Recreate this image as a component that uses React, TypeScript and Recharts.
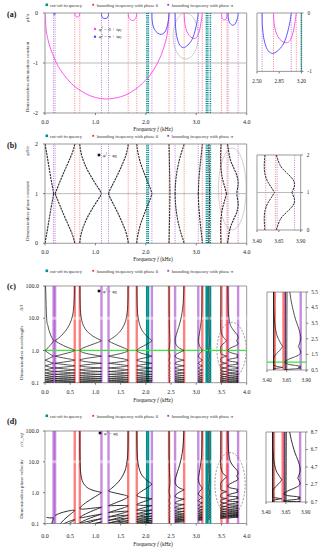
import React from 'react';
import { ComposedChart, Line, XAxis, YAxis, ReferenceLine, ReferenceArea } from 'recharts';

const SERIF = '"Liberation Serif", "DejaVu Serif", serif';

// ---------- tick values ----------
const freqTicksCoarse = [0, 1, 2, 3, 4];
const freqTicksFine = [0, 0.5, 1, 1.5, 2, 2.5, 3, 3.5, 4];
const insetATicksX = [2.5, 2.85, 3.2];
const insetTicksX = [3.4, 3.65, 3.9];
const attenTicks = [-2, -1, 0];
const insetAttenTicks = [-1, 0];
const phaseTicks = [0, 1, 2];
const logTicks = [0.1, 1, 10, 100];
const insetWaveTicks = [0.5, 1.5, 2.5, 3.5, 4.5, 5.5];
const insetVelTicks = [0.7, 2.7, 4.7, 6.7, 8.7];

// ---------- characteristic frequencies (kHz) ----------
const cutoffFreqs = [2.02, 2.05, 3.2, 3.23, 3.28];
const phase0Freqs = [0.59, 0.69, 1.65, 1.82, 2.46, 2.76, 3.12, 3.5, 3.61];
const phasePiFreqs = [0.17, 0.2, 1.12, 1.26, 2.12, 2.58, 3.04, 3.63, 3.83];

// ---------- (a) attenuation lobes [f, phiI/pi] ----------
const attPhase0Big: [number, number][] = [[0, 0], [0.02, -0.31], [0.05, -0.49], [0.1, -0.68], [0.2, -0.94], [0.3, -1.13], [0.45, -1.33], [0.6, -1.48], [0.8, -1.61], [1.0, -1.69], [1.2, -1.72], [1.4, -1.7], [1.6, -1.64], [1.8, -1.52], [2.0, -1.34], [2.1, -1.22], [2.2, -1.06], [2.3, -0.85], [2.38, -0.61], [2.43, -0.38], [2.46, 0]];
const attPhase0L1: [number, number][] = [[0.59, 0], [0.595, -0.04], [0.61, -0.07], [0.64, -0.08], [0.67, -0.07], [0.685, -0.04], [0.69, 0]];
const attPhase0L2: [number, number][] = [[1.65, 0], [1.66, -0.08], [1.69, -0.13], [1.735, -0.15], [1.78, -0.13], [1.81, -0.08], [1.82, 0]];
const attPhase0L3: [number, number][] = [[2.76, 0], [2.765, -0.12], [2.78, -0.25], [2.81, -0.36], [2.86, -0.45], [2.92, -0.5], [2.97, -0.51], [3.02, -0.47], [3.06, -0.37], [3.09, -0.22], [3.11, -0.08], [3.12, 0]];
const attPhase0L4: [number, number][] = [[3.5, 0], [3.505, -0.07], [3.52, -0.12], [3.555, -0.14], [3.59, -0.12], [3.605, -0.07], [3.61, 0]];
const attPhasePiL1: [number, number][] = [[0.17, 0], [0.175, -0.03], [0.185, -0.04], [0.195, -0.03], [0.2, 0]];
const attPhasePiL2: [number, number][] = [[1.12, 0], [1.125, -0.06], [1.15, -0.1], [1.19, -0.11], [1.23, -0.1], [1.255, -0.06], [1.26, 0]];
const attPhasePiL3: [number, number][] = [[2.12, 0], [2.125, -0.15], [2.15, -0.28], [2.2, -0.37], [2.27, -0.42], [2.33, -0.42], [2.39, -0.36], [2.43, -0.24], [2.45, -0.12], [2.46, 0]];
const attPhasePiL4: [number, number][] = [[2.58, 0], [2.585, -0.22], [2.61, -0.45], [2.66, -0.62], [2.73, -0.69], [2.8, -0.67], [2.87, -0.6], [2.93, -0.5], [2.98, -0.34], [3.02, -0.15], [3.04, 0]];
const attPhasePiL5: [number, number][] = [[3.63, 0], [3.635, -0.1], [3.66, -0.19], [3.71, -0.24], [3.76, -0.23], [3.8, -0.16], [3.825, -0.07], [3.83, 0]];

// ---------- (b) phase constant, lower branch [f, phiR/pi] ----------
const band1: [number, number][] = [[0, 0.004], [0.03, 0.17], [0.06, 0.35], [0.09, 0.53], [0.12, 0.71], [0.145, 0.85], [0.16, 0.93], [0.17, 1]];
const band2: [number, number][] = [[0.2, 1], [0.24, 0.9], [0.3, 0.75], [0.37, 0.58], [0.44, 0.42], [0.5, 0.28], [0.545, 0.17], [0.57, 0.09], [0.583, 0.04], [0.589, 0.015], [0.5905, 0.005]];
const band3: [number, number][] = [[0.69, 0.005], [0.691, 0.02], [0.695, 0.06], [0.705, 0.13], [0.73, 0.24], [0.77, 0.36], [0.83, 0.5], [0.9, 0.63], [0.97, 0.75], [1.04, 0.86], [1.09, 0.94], [1.11, 0.98], [1.12, 1]];
const band4: [number, number][] = [[1.26, 1], [1.27, 0.97], [1.3, 0.9], [1.35, 0.8], [1.42, 0.66], [1.49, 0.51], [1.55, 0.37], [1.6, 0.24], [1.63, 0.13], [1.645, 0.06], [1.649, 0.02], [1.65, 0.005]];
const band5: [number, number][] = [[1.82, 0.005], [1.821, 0.02], [1.825, 0.06], [1.835, 0.13], [1.86, 0.25], [1.9, 0.4], [1.95, 0.54], [2.0, 0.67], [2.05, 0.8], [2.09, 0.9], [2.11, 0.96], [2.12, 1]];
const band6: [number, number][] = [[2.46, 0.005], [2.462, 0.1], [2.467, 0.35], [2.472, 0.6], [2.476, 0.85], [2.478, 1]];
const band7: [number, number][] = [[2.58, 1], [2.585, 0.85], [2.6, 0.68], [2.63, 0.48], [2.67, 0.3], [2.71, 0.16], [2.74, 0.07], [2.755, 0.02], [2.76, 0.005]];
const band8: [number, number][] = [[3.04, 1], [3.05, 0.75], [3.07, 0.5], [3.09, 0.3], [3.11, 0.12], [3.12, 0.005]];
const band9: [number, number][] = [[3.25, 0.005], [3.255, 0.4], [3.26, 0.8], [3.262, 1]];
const band10: [number, number][] = [[3.49, 0.005], [3.487, 0.1], [3.483, 0.3], [3.49, 0.5], [3.52, 0.7], [3.56, 0.85], [3.6, 1]];
const band11: [number, number][] = [[3.62, 0.005], [3.635, 0.1], [3.66, 0.25], [3.69, 0.36], [3.75, 0.5], [3.81, 0.65], [3.83, 0.8], [3.8, 1]];

// spatial harmonics shown in (c) and (d)
const harmonicOrders = [0, 1, 2, 3, 4, 5, 6, 7, 8, 9, 10];
// c/c_ref = velocityScale * f * (wavelength / l), scale
const velocityScale = 0.45;
// bands whose fundamental (longest-wavelength) branch is not drawn in (d)
const velocityBandsWithoutFundamental = [band2];

// ---------- colours ----------
const MAGENTA = '#ff44ee';
const BLUE = '#4a4aff';
const PINK = '#ff7070';
const PURPLE = '#b86ad8';
const TEAL = '#008f8f';
const RED = '#ff2a2a';

type Seg = [number, number][];
type Pt = { f: number; y: number | null };

function toPts(segs: Seg[]): Pt[] {
  const out: Pt[] = [];
  segs.forEach((s) => {
    s.forEach(([f, y]) => out.push({ f, y: Number.isFinite(y) ? y : null }));
    out.push({ f: s[s.length - 1][0], y: null });
  });
  return out;
}

// Catmull-Rom curve factory for smooth parametric curves
function smoothCurve(context: any) {
  let pts: [number, number][] = [];
  return {
    areaStart() {},
    areaEnd() {},
    lineStart() {
      pts = [];
    },
    lineEnd() {
      const n = pts.length;
      if (n === 0) return;
      context.moveTo(pts[0][0], pts[0][1]);
      for (let i = 0; i < n - 1; i++) {
        const p0 = pts[Math.max(i - 1, 0)];
        const p1 = pts[i];
        const p2 = pts[i + 1];
        const p3 = pts[Math.min(i + 2, n - 1)];
        context.bezierCurveTo(
          p1[0] + (p2[0] - p0[0]) / 6,
          p1[1] + (p2[1] - p0[1]) / 6,
          p2[0] - (p3[0] - p1[0]) / 6,
          p2[1] - (p3[1] - p1[1]) / 6,
          p2[0],
          p2[1]
        );
      }
    },
    point(x: number, y: number) {
      pts.push([+x, +y]);
    },
  };
}

const bands = [band1, band2, band3, band4, band5, band6, band7, band8, band9, band10, band11];

const phaseSegs: Seg[] = [];
bands.forEach((b) => {
  phaseSegs.push(b.map(([f, p]) => [f, p] as [number, number]));
  phaseSegs.push(b.map(([f, p]) => [f, 2 - p] as [number, number]));
});

const waveSegs: Seg[] = [];
const velSegs: Seg[] = [];
bands.forEach((b) => {
  harmonicOrders.forEach((n) => {
    const lower = b.map(([f, p]) => [f, 2 / (p + 2 * n)] as [number, number]);
    const upper = b.map(([f, p]) => [f, 2 / (2 * n + 2 - p)] as [number, number]);
    waveSegs.push(lower, upper);
    const toVel = (s: Seg) =>
      s.map(([f, w]) => [f, f > 0 ? velocityScale * f * w : NaN] as [number, number]);
    if (!(n === 0 && velocityBandsWithoutFundamental.includes(b))) velSegs.push(toVel(lower));
    velSegs.push(toVel(upper));
  });
});

const phasePts = toPts(phaseSegs);
const wavePts = toPts(waveSegs);
const velPts = toPts(velSegs);

type Rect = { x0: number; x1: number; y0: number; y1: number };

function freqLines(dotted: boolean) {
  const els: React.ReactNode[] = [];
  const common = dotted
    ? { strokeDasharray: '1 1.3', strokeWidth: 0.9 }
    : { strokeWidth: 2.4, strokeOpacity: 0.6 };
  phasePiFreqs.forEach((f, i) =>
    els.push(<ReferenceLine key={'pp' + i} x={f} stroke={dotted ? PURPLE : '#a040c8'} {...common} />)
  );
  phase0Freqs.forEach((f, i) =>
    els.push(<ReferenceLine key={'p0' + i} x={f} stroke={dotted ? PINK : RED} {...common} />)
  );
  cutoffFreqs.forEach((f, i) =>
    els.push(
      <ReferenceLine
        key={'co' + i}
        x={f}
        stroke={TEAL}
        strokeWidth={dotted ? 1.5 : 1.8}
        strokeDasharray={dotted ? '1.2 1' : undefined}
      />
    )
  );
  return els;
}

function ellipseShape(dashed: boolean) {
  return (props: any) => {
    const { x, y, width, height } = props;
    return (
      <ellipse
        cx={x + width / 2}
        cy={y + height / 2}
        rx={Math.abs(width) / 2}
        ry={Math.abs(height) / 2}
        fill="none"
        stroke={dashed ? '#555' : '#c4c4c4'}
        strokeWidth={dashed ? 0.6 : 0.8}
        strokeDasharray={dashed ? '2 1.5' : undefined}
      />
    );
  };
}

function curve(key: string, data: Pt[], color: string, width: number, dash?: string) {
  return (
    <Line
      key={key}
      data={data}
      dataKey="y"
      type={smoothCurve as any}
      stroke={color}
      strokeWidth={width}
      strokeDasharray={dash}
      dot={false}
      activeDot={false}
      connectNulls={false}
      isAnimationActive={false}
    />
  );
}

function Chart(props: {
  rect: Rect;
  side: 'left' | 'right';
  axisW: number;
  axisH: number;
  xDomain: [number, number];
  xTicks: number[];
  xDigits: number;
  yDomain: [number, number];
  yTicks: number[];
  yFmt: (v: number) => string;
  log?: boolean;
  xTm: number;
  yTm: number;
  fs: number;
  children: React.ReactNode;
}) {
  const { rect, side, axisW, axisH, xDomain, xTicks, xDigits, yDomain, yTicks, yFmt, log, xTm, yTm, fs } = props;
  const mt = 6;
  const mb = 2;
  const mo = 12;
  const pw = rect.x1 - rect.x0;
  const ph = rect.y1 - rect.y0;
  const left = side === 'left' ? rect.x0 - axisW : rect.x0 - mo;
  const width = axisW + pw + mo;
  const height = mt + ph + axisH + mb;
  const margin =
    side === 'left'
      ? { top: mt, right: mo, bottom: mb, left: 0 }
      : { top: mt, right: 0, bottom: mb, left: mo };
  const tickStyle = { fontSize: fs, fontFamily: SERIF, fill: '#222' };
  return (
    <div style={{ position: 'absolute', left, top: rect.y0 - mt, width, height }}>
      <ComposedChart width={width} height={height} margin={margin}>
        <XAxis
          type="number"
          dataKey="f"
          domain={xDomain}
          ticks={xTicks}
          interval={0}
          tickFormatter={(v: number) => v.toFixed(xDigits)}
          allowDataOverflow
          height={axisH}
          axisLine={false}
          tickSize={2}
          tickMargin={xTm}
          tick={tickStyle}
          stroke="#777"
        />
        <YAxis
          type="number"
          orientation={side}
          width={axisW}
          domain={yDomain}
          ticks={yTicks}
          interval={0}
          scale={log ? 'log' : 'linear'}
          tickFormatter={yFmt}
          allowDataOverflow
          axisLine={false}
          tickSize={2}
          tickMargin={yTm}
          tick={tickStyle}
          stroke="#777"
        />
        {props.children}
        <ReferenceArea
          x1={xDomain[0]}
          x2={xDomain[1]}
          y1={yDomain[0]}
          y2={yDomain[1]}
          fill="none"
          stroke="#8f8f8f"
          strokeWidth={0.9}
          ifOverflow="visible"
        />
      </ComposedChart>
    </div>
  );
}

const attPhase0Pts = [attPhase0Big, attPhase0L1, attPhase0L2, attPhase0L3, attPhase0L4].map((s) => toPts([s]));
const attPhasePiPts = [attPhasePiL1, attPhasePiL2, attPhasePiL3, attPhasePiL4, attPhasePiL5].map((s) => toPts([s]));

function attenSeries() {
  return [
    ...attPhase0Pts.map((d, i) => curve('m' + i, d, MAGENTA, 0.9)),
    ...attPhasePiPts.map((d, i) => curve('b' + i, d, BLUE, 0.9)),
  ];
}

const fmtInt = (v: number) => String(v);
const fmt1 = (v: number) => v.toFixed(1);

const rA: Rect = { x0: 45, x1: 246.7, y0: 13.3, y1: 113.3 };
const rAi: Rect = { x0: 257.3, x1: 301.7, y0: 13.3, y1: 71.7 };
const rB: Rect = { x0: 45, x1: 246.7, y0: 144, y1: 243.3 };
const rBi: Rect = { x0: 257.3, x1: 301, y0: 155, y1: 230 };
const rC: Rect = { x0: 45, x1: 246.7, y0: 286, y1: 382.7 };
const rCi: Rect = { x0: 266.5, x1: 305.7, y0: 292, y1: 370 };
const rD: Rect = { x0: 45, x1: 246.7, y0: 431, y1: 523.5 };
const rDi: Rect = { x0: 265.5, x1: 305.2, y0: 431.7, y1: 501.7 };

function Legend({ y }: { y: number }) {
  const fs = 4.6;
  return (
    <g fontFamily={SERIF} fontSize={fs} fill="#333">
      <rect x={45.5} y={y - 1.5} width={2.6} height={2.6} fill={TEAL} />
      <text x={50} y={y + 1.5}>cut-off frequency</text>
      <rect x={92.3} y={y - 1.1} width={1.8} height={1.8} fill={RED} />
      <text x={96.7} y={y + 1.5}>bounding frequency with phase 0</text>
      <rect x={167.3} y={y - 1.1} width={1.8} height={1.8} fill="#9b3fc4" />
      <text x={171.7} y={y + 1.5}>bounding frequency with phase π</text>
    </g>
  );
}

function VTitle({ x, y, text }: { x: number; y: number; text: React.ReactNode }) {
  return (
    <text
      x={x}
      y={y}
      transform={`rotate(-90 ${x} ${y})`}
      textAnchor="middle"
      fontFamily={SERIF}
      fontSize={5}
      fill="#222"
      dominantBaseline="middle"
    >
      {text}
    </text>
  );
}

function FreqTitle({ y }: { y: number }) {
  return (
    <text x={153} y={y} textAnchor="middle" fontFamily={SERIF} fontSize={5.4} fill="#222" dominantBaseline="middle">
      Frequency   <tspan fontStyle="italic">f</tspan> (kHz)
    </text>
  );
}

function RealLegend({ x, y }: { x: number; y: number }) {
  return (
    <g fontFamily={SERIF} fontSize={4.8} fill="#222">
      <rect x={x - 1.3} y={y - 1.3} width={2.6} height={2.6} fill="#111" />
      <text x={x + 4} y={y + 1.6} fontStyle="italic">
        φ<tspan fontSize={3.2} dy={-1.5}>l</tspan>
        <tspan dy={1.5}> = φ</tspan>
        <tspan fontSize={3.2} dy={1}>R</tspan>
      </text>
    </g>
  );
}

function Overlay() {
  return (
    <svg
      width={321}
      height={550}
      style={{ position: 'absolute', left: 0, top: 0, pointerEvents: 'none' }}
    >
      <g fontFamily={SERIF} fontWeight="bold" fontSize={8} fill="#111">
        <text x={7} y={17}>(a)</text>
        <text x={7} y={148}>(b)</text>
        <text x={7} y={289}>(c)</text>
        <text x={7} y={424}>(d)</text>
      </g>
      <Legend y={5} />
      <Legend y={136} />
      <Legend y={271} />
      <Legend y={416} />

      <VTitle x={28} y={77} text="Dimensionless attenuation constant" />
      <VTitle x={28} y={18} text={<tspan fontStyle="italic">φI/π</tspan>} />
      <VTitle x={28} y={211} text="Dimensionless phase constant" />
      <VTitle x={28} y={151} text={<tspan fontStyle="italic">φR/π</tspan>} />
      <VTitle x={22} y={353} text="Dimensionless wavelength" />
      <VTitle x={22} y={308} text={<tspan fontStyle="italic">Λ/l</tspan>} />
      <VTitle x={22} y={489} text="Dimensionless phase velocity" />
      <VTitle x={22} y={440} text={<tspan fontStyle="italic">c/c_ref</tspan>} />

      <FreqTitle y={129.5} />
      <FreqTitle y={260} />
      <FreqTitle y={401} />
      <FreqTitle y={545} />

      <g fontFamily={SERIF} fontSize={4.8} fill="#222" fontStyle="italic">
        <circle cx={95} cy={29} r={1.2} fill={MAGENTA} />
        <text x={99} y={30.6}>
          φ<tspan fontSize={3.2} dy={-1.5}>l</tspan>
          <tspan dy={1.5}> = 0 + iφ</tspan>
          <tspan fontSize={3.2} dy={1}>I</tspan>
        </text>
        <circle cx={95} cy={36.7} r={1.2} fill={BLUE} />
        <text x={99} y={38.3}>
          φ<tspan fontSize={3.2} dy={-1.5}>l</tspan>
          <tspan dy={1.5}> = π + iφ</tspan>
          <tspan fontSize={3.2} dy={1}>I</tspan>
        </text>
      </g>
      <RealLegend x={99} y={155} />
      <RealLegend x={99} y={291} />
      <RealLegend x={100} y={433} />
    </svg>
  );
}

export default function App() {
  return (
    <div style={{ position: 'absolute', left: 0, top: 0, width: 321, height: 550, background: '#fff', overflow: 'hidden' }}>
      {/* (a) main */}
      <Chart rect={rA} side="left" axisW={45} axisH={16} xDomain={[0, 4]} xTicks={freqTicksCoarse} xDigits={1}
        yDomain={[-2, 0]} yTicks={attenTicks} yFmt={fmtInt} xTm={4.3} yTm={5} fs={6}>
        {freqLines(true)}
        <ReferenceLine y={-1} stroke="#aaa" strokeWidth={0.8} />
        <ReferenceArea x1={2.54} x2={3.04} y1={-0.92} y2={0} shape={ellipseShape(false)} />
        {attenSeries()}
      </Chart>
      {/* (a) inset */}
      <Chart rect={rAi} side="right" axisW={18} axisH={16} xDomain={[2.5, 3.2]} xTicks={insetATicksX} xDigits={2}
        yDomain={[-1, 0]} yTicks={insetAttenTicks} yFmt={fmtInt} xTm={5.8} yTm={4} fs={5.3}>
        {freqLines(true)}
        {attenSeries()}
      </Chart>

      {/* (b) main */}
      <Chart rect={rB} side="left" axisW={45} axisH={16} xDomain={[0, 4]} xTicks={freqTicksCoarse} xDigits={1}
        yDomain={[0, 2]} yTicks={phaseTicks} yFmt={fmtInt} xTm={4.6} yTm={5} fs={6}>
        {freqLines(true)}
        <ReferenceLine y={1} stroke="#aaa" strokeWidth={0.8} />
        <ReferenceArea x1={3.44} x2={3.99} y1={0.27} y2={1.92} shape={ellipseShape(false)} />
        {curve('ph', phasePts, '#2a2a2a', 1.1, '2.2 0.8')}
      </Chart>
      {/* (b) inset */}
      <Chart rect={rBi} side="right" axisW={18} axisH={16} xDomain={[3.4, 3.9]} xTicks={insetTicksX} xDigits={2}
        yDomain={[0, 2]} yTicks={phaseTicks} yFmt={fmtInt} xTm={7.5} yTm={4} fs={5.3}>
        {freqLines(true)}
        <ReferenceLine y={1} stroke="#aaa" strokeWidth={0.8} />
        {curve('phi', phasePts, '#2a2a2a', 1.0, '2.2 0.8')}
      </Chart>

      {/* (c) main */}
      <Chart rect={rC} side="left" axisW={45} axisH={16} xDomain={[0, 4]} xTicks={freqTicksFine} xDigits={1}
        yDomain={[0.1, 100]} yTicks={logTicks} yFmt={fmt1} log xTm={5.3} yTm={4} fs={6}>
        {freqLines(false)}
        <ReferenceLine y={10} stroke="#fff" strokeWidth={3} strokeOpacity={0.45} />
        <ReferenceLine y={1} stroke="#39e639" strokeWidth={1.3} />
        {curve('wv', wavePts, '#1a1a1a', 0.75)}
        <ReferenceArea x1={3.41} x2={3.99} y1={0.14} y2={7.5} shape={ellipseShape(true)} />
      </Chart>
      {/* (c) inset */}
      <Chart rect={rCi} side="right" axisW={18} axisH={16} xDomain={[3.4, 3.9]} xTicks={insetTicksX} xDigits={2}
        yDomain={[0.5, 5.5]} yTicks={insetWaveTicks} yFmt={fmt1} xTm={5.8} yTm={3} fs={5.3}>
        {freqLines(false)}
        <ReferenceLine y={1} stroke="#39e639" strokeWidth={1.3} />
        {curve('wvi', wavePts, '#1a1a1a', 0.75)}
      </Chart>

      {/* (d) main */}
      <Chart rect={rD} side="left" axisW={45} axisH={20} xDomain={[0, 4]} xTicks={freqTicksFine} xDigits={1}
        yDomain={[0.1, 100]} yTicks={logTicks} yFmt={fmt1} log xTm={8} yTm={4} fs={6}>
        {freqLines(false)}
        <ReferenceLine y={10} stroke="#fff" strokeWidth={3} strokeOpacity={0.45} />
        {curve('vl', velPts, '#1a1a1a', 0.9)}
        <ReferenceArea x1={3.37} x2={3.97} y1={0.18} y2={20} shape={ellipseShape(true)} />
      </Chart>
      {/* (d) inset */}
      <Chart rect={rDi} side="right" axisW={18} axisH={16} xDomain={[3.4, 3.9]} xTicks={insetTicksX} xDigits={2}
        yDomain={[0.7, 8.7]} yTicks={insetVelTicks} yFmt={fmt1} xTm={5.8} yTm={3} fs={5.3}>
        {freqLines(false)}
        {curve('vli', velPts, '#1a1a1a', 0.9)}
      </Chart>

      <Overlay />
    </div>
  );
}
